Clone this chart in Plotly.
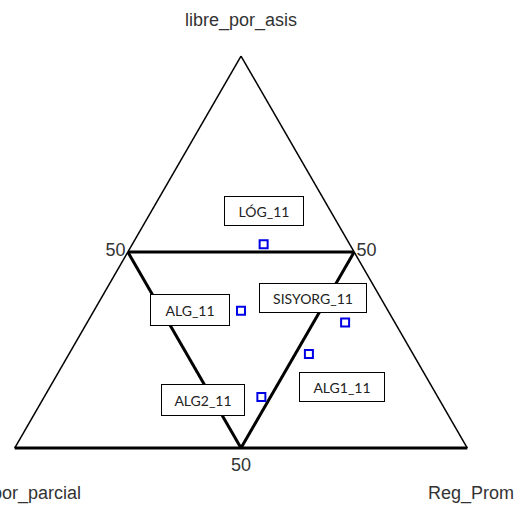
import plotly.graph_objects as go

# materias (etiquetas) y sus porcentajes en cada componente
materias = ["LÓG_11", "ALG_11", "SISYORG_11", "ALG1_11", "ALG2_11"]
libre_por_asis = [52, 35, 32, 24, 13]
libre_por_parcial = [19, 32.5, 11, 23, 39]
reg_prom = [29, 32.5, 57, 53, 48]
marcas = [50]
titulos = ["libre_por_asis", "libre_por_parcial", "Reg_Prom"]

# posicion de las cajas de texto (pixeles en la imagen)
cajas = {
    "LÓG_11": (264, 211, 80, 30),
    "ALG_11": (190, 310, 80, 32),
    "SISYORG_11": (313, 298, 108, 30),
    "ALG1_11": (342, 387, 86, 30),
    "ALG2_11": (203, 400, 84, 32),
}
pos_titulos = [(241, 20), (14, 493), (471, 493)]

W, H = 522, 505
ml, mr, mt, mb = 14, 54, 56, 57
pw, ph = W - ml - mr, H - mt - mb


def papel(px, py):
    return (px - ml) / pw, 1 - (py - mt) / ph


fig = go.Figure(go.Scatterternary(
    a=libre_por_asis, b=libre_por_parcial, c=reg_prom,
    mode="markers", text=materias, hoverinfo="text",
    marker=dict(symbol="square-open", size=8, color="#0000e6",
                line=dict(width=2, color="#0000e6")),
    showlegend=False))

ejes = dict(title=dict(text=" "), tickvals=marcas, ticks="", showgrid=True,
            gridcolor="black", gridwidth=3, linecolor="black",
            tickfont=dict(family="Liberation Sans", size=18, color="#333"))

fig.update_layout(
    width=W, height=H,
    margin=dict(l=ml, r=mr, t=mt, b=mb),
    paper_bgcolor="white",
    font=dict(family="Liberation Sans", color="#333"),
    ternary=dict(
        sum=100, bgcolor="white",
        aaxis=dict(linewidth=1.5, **ejes),
        baxis=dict(linewidth=3, **ejes),
        caxis=dict(linewidth=1.5, **ejes),
    ),
)

for t, (px, py) in zip(titulos, pos_titulos):
    x, y = papel(px, py)
    fig.add_annotation(xref="paper", yref="paper", x=x, y=y, text=t,
                       showarrow=False, xanchor="center", yanchor="middle",
                       font=dict(family="Liberation Sans", size=18, color="#333"))

for m in materias:
    cx, cy, bw, bh = cajas[m]
    x, y = papel(cx, cy)
    fig.add_annotation(
        xref="paper", yref="paper", x=x, y=y, xanchor="center", yanchor="middle",
        text=m, showarrow=False, width=bw - 2, height=bh - 2,
        bgcolor="white", bordercolor="black", borderwidth=1, borderpad=0,
        font=dict(family="Lato", size=14, color="#222"))

fig.write_html("out.html", config={"displayModeBar": False},
               post_script="document.body.style.margin='0';")
